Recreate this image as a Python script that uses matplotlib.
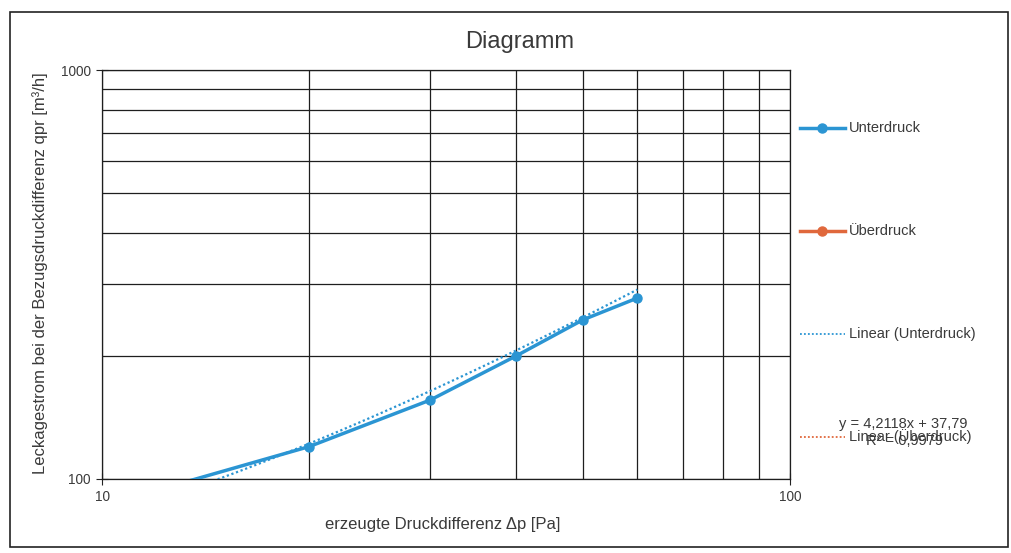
import matplotlib
matplotlib.use("Agg")
import matplotlib.pyplot as plt
from matplotlib.lines import Line2D
from matplotlib.patches import Rectangle
import numpy as np

dp_unter = [10, 20, 30, 40, 50, 60]
q_unter = [86, 120, 156, 200, 245, 277]

# trendline as printed on the chart
fit_slope = 4.2118
fit_icpt = 37.79
fit_text = "y = 4,2118x + 37,79"
r2_text = "R² = 0,9979"

legend_labels = ["Unterdruck", "Überdruck", "Linear (Unterdruck)", "Linear (Überdruck)"]

blue = "#2b95d3"
orange = "#e0683c"
txt = "#3a3a3a"

W, H = 1012, 553
plt.rcParams['font.family'] = ['Liberation Sans', 'DejaVu Sans']

fig = plt.figure(figsize=(W / 100, H / 100), dpi=100)

def fx(px):
    return px / W

def fy(py):
    return 1 - py / H

ax = fig.add_axes([fx(102), fy(479), fx(790 - 102), (479 - 70) / H])
ax.set_xscale("log")
ax.set_yscale("log")
ax.set_xlim(10, 100)
ax.set_ylim(100, 1000)

ax.set_xticks([10, 100])
ax.set_xticklabels(["10", "100"])
ax.set_yticks([100, 1000])
ax.set_yticklabels(["100", "1000"])
ax.set_xticks(range(20, 100, 10), minor=True)
ax.set_yticks(range(200, 1000, 100), minor=True)
ax.tick_params(which="minor", length=0, labelleft=False, labelbottom=False)
ax.tick_params(which="major", direction="inout", length=8, labelsize=9.8,
               colors="#222222", labelcolor=txt, pad=4)
ax.grid(which="both", color="#1e1e1e", lw=0.9)
for s in ax.spines.values():
    s.set_color("#1e1e1e")
    s.set_linewidth(0.9)

# trendline
xf = np.linspace(min(dp_unter), max(dp_unter), 200)
ax.plot(xf, fit_slope * xf + fit_icpt, ls=(0, (1, 1.2)), color=blue, lw=1.6, zorder=3)
ax.plot(dp_unter, q_unter, color=blue, lw=2.5, marker="o", ms=6.5, zorder=4)

fig.text(fx(520), fy(42), "Diagramm", fontsize=17, color=txt, ha="center", va="center")
fig.text(fx(40), fy(273), "Leckagestrom bei der Bezugsdruckdifferenz qpr [m³/h]",
         rotation=90, fontsize=12, color=txt, ha="center", va="center")
fig.text(fx(443), fy(524), "erzeugte Druckdifferenz Δp [Pa]", fontsize=12,
         color=txt, ha="center", va="center")

# legend, spread down the right side like the Excel original
styles = [
    dict(color=blue, lw=2.5, marker="o", ms=6.5, markevery=[1]),
    dict(color=orange, lw=2.5, marker="o", ms=6.5, markevery=[1]),
    dict(color=blue, lw=1.3, ls=(0, (1, 1.2))),
    dict(color=orange, lw=1.3, ls=(0, (1, 1.2))),
]
for i, (lab, st) in enumerate(zip(legend_labels, styles)):
    py = 128 + i * 103
    fig.add_artist(Line2D([fx(800), fx(822), fx(845)], [fy(py)] * 3,
                          transform=fig.transFigure, **st))
    fig.text(fx(849), fy(py), lab, fontsize=10.5, color=txt, ha="left", va="center")

fig.text(fx(903), fy(424), fit_text, fontsize=10.5, color=txt, ha="center", va="center")
fig.text(fx(905), fy(441), r2_text, fontsize=10.5, color=txt, ha="center", va="center")

fig.add_artist(Rectangle((fx(10), fy(547)), fx(1008 - 10), (547 - 12) / H,
                         transform=fig.transFigure, fill=False, ec="#222222", lw=1.2))

fig.savefig("out.png", dpi=100)
